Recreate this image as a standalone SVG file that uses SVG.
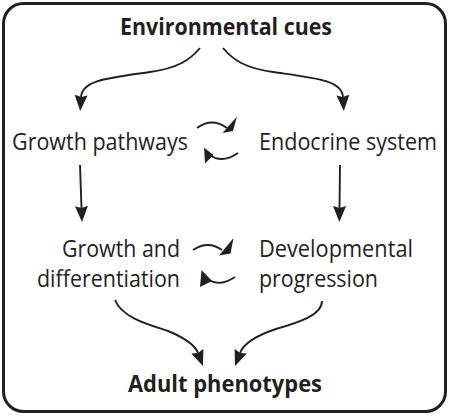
<svg xmlns="http://www.w3.org/2000/svg" width="449" height="416" viewBox="0 0 449 416">
<style>
text{font-family:"Open Sans","Noto Sans","Liberation Sans",sans-serif;font-size:23px;fill:#231f20}
.b{font-weight:bold}
.c{fill:none;stroke:#231f20;stroke-width:1.9}
.h{fill:#231f20}
</style>
<defs>
<marker id="ah" markerUnits="userSpaceOnUse" markerWidth="16" markerHeight="13" viewBox="0 0 16 13" refX="2" refY="6.5" orient="auto">
<path d="M0,0 L16,6.5 L0,13 L2,6.5 z" fill="#231f20"/>
</marker>
</defs>
<rect x="3.5" y="3.5" width="442" height="408" rx="20" ry="20" fill="#fff" stroke="#231f20" stroke-width="3"/>
<g id="env"><text class="b" x="226" y="35" text-anchor="middle" textLength="212" lengthAdjust="spacingAndGlyphs">Environmental cues</text></g>
<g id="growth"><text x="12" y="150" textLength="176" lengthAdjust="spacingAndGlyphs">Growth pathways</text></g>
<g id="endo"><text x="259" y="150" textLength="178" lengthAdjust="spacingAndGlyphs">Endocrine system</text></g>
<g id="gd"><text x="180" y="257" text-anchor="end" textLength="118" lengthAdjust="spacingAndGlyphs">Growth and</text><text x="180" y="287" text-anchor="end" textLength="143" lengthAdjust="spacingAndGlyphs">differentiation</text></g>
<g id="dev"><text x="259" y="257" textLength="154" lengthAdjust="spacingAndGlyphs">Developmental</text><text x="259" y="287" textLength="119" lengthAdjust="spacingAndGlyphs">progression</text></g>
<g id="adult"><text class="b" x="225" y="392" text-anchor="middle" textLength="194" lengthAdjust="spacingAndGlyphs">Adult phenotypes</text></g>
<g id="connectors">
<path class="c" d="M200,48 C190,60 178,68 150,72 C108,78 82,80 81,97" marker-end="url(#ah)"/>
<path class="c" d="M223,48 C233,60 245,68 273,72 C315,78 342,80 343,97" marker-end="url(#ah)"/>
<path class="c" d="M80,165 L81.5,208" marker-end="url(#ah)"/>
<path class="c" d="M340,165 L339.5,208" marker-end="url(#ah)"/>
<path class="c" d="M115,300 C122,318 150,325 168,331 C185,338 195,345 198,353" marker-end="url(#ah)"/>
<path class="c" d="M322,301 C322,315 300,322 276,329 C255,336 243,345 240,353" marker-end="url(#ah)"/>
<path class="c" d="M197,128 Q212,117 227,128"/>
<polygon class="h" points="222.5,133 237,116.5 233,131"/>
<path class="c" d="M238,153 Q222,164 210,155"/>
<polygon class="h" points="204,147.5 205,163.5 213.5,155"/>
<path class="c" d="M193,250 Q208,240 222,250"/>
<polygon class="h" points="219,255.5 233.5,238 230.5,253.5"/>
<path class="c" d="M235,277 Q220,287 209,280"/>
<polygon class="h" points="201.5,270 200,287 212,281"/>
</g>
</svg>
